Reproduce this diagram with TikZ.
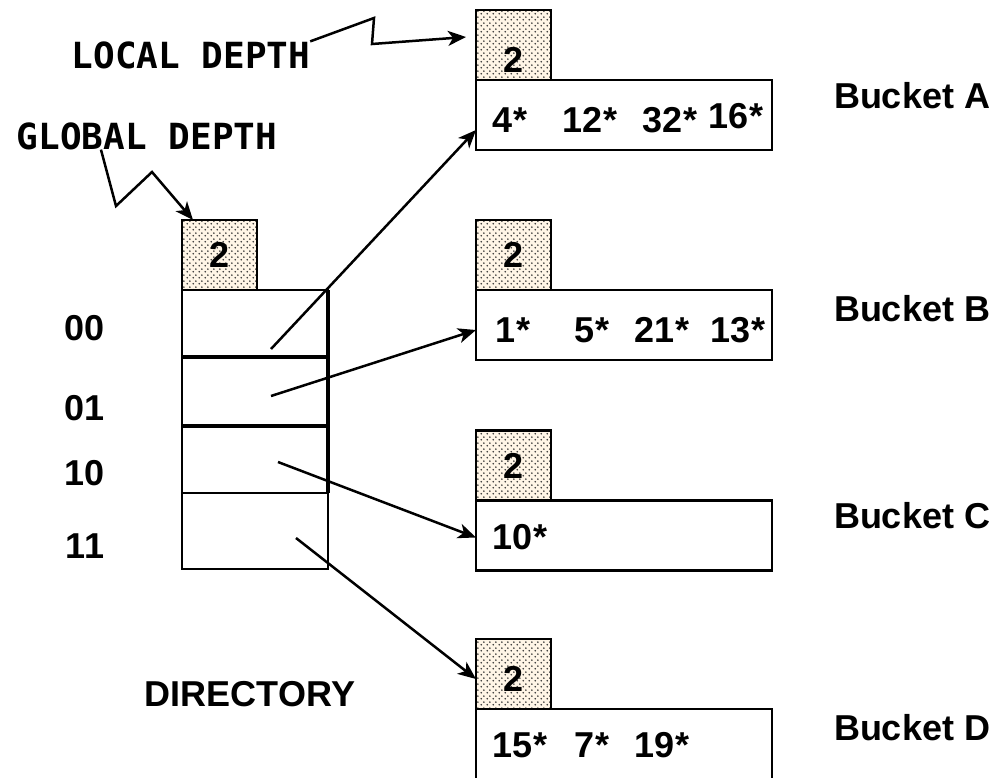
\documentclass[tikz,border=0pt]{standalone}
\usepackage{fontspec}
\setmainfont{Liberation Sans}
\newfontfamily\labelmono{DejaVu Sans Mono}
\usepackage{tikz}
\usetikzlibrary{positioning,arrows.meta,patterns}

\definecolor{cream}{RGB}{255,245,230}
% staggered dots for the depth counters
\pgfdeclarepatternformonly{cream dots}{\pgfqpoint{0pt}{0pt}}{\pgfqpoint{6pt}{6pt}}{\pgfqpoint{6pt}{6pt}}{%
  \pgfpathcircle{\pgfqpoint{1.5pt}{1.5pt}}{1pt}%
  \pgfpathcircle{\pgfqpoint{4.5pt}{4.5pt}}{1pt}%
  \pgfusepath{fill}}

\begin{document}
\begin{tikzpicture}[
  x=1pt, y=-1pt,
  every node/.style={inner sep=0pt, outer sep=0pt},
  txt/.style={font=\fontsize{36}{40}\selectfont\bfseries},
  monotxt/.style={font=\fontsize{36}{40}\selectfont\labelmono\bfseries},
  depthbox/.style={draw, line width=2.5pt, preaction={fill=cream}, pattern=cream dots, pattern color=black!80, minimum width=75pt, minimum height=70pt, txt},
  bktbox/.style={draw, line width=2.5pt, minimum width=296pt, minimum height=70pt},
  cell/.style={draw, line width=2.5pt, minimum width=146pt},
  heavy/.style={line width=4pt},
  ptr/.style={-{Stealth[length=18pt,width=15pt,inset=5pt]}, line width=2.5pt}
]
\useasboundingbox (0,0) rectangle (1001,777);

% Directory with global depth
\node[cell, minimum height=67pt] (dir00) at (255,323.5) {};
\node[cell, minimum height=69pt, below=0pt of dir00] (dir01) {};
\node[cell, minimum height=67pt, below=0pt of dir01] (dir10) {};
\node[cell, minimum height=76pt, below=0pt of dir10] (dir11) {};
\draw[heavy] (dir00.south west) -- (dir00.south east);
\draw[heavy] (dir01.south west) -- (dir01.south east);
\draw[heavy] (dir00.north east) -- (dir10.south east);
\node[depthbox, above right=0pt and 0pt of dir00.north west] (gdepth) {2};

\node[txt] (b00) at (85,328) {00};
\node[txt] (b01) at (85,408) {01};
\node[txt] (b10) at (85,473) {10};
\node[txt] (b11) at (85,546) {11};
\node[txt] (dirlbl) at (250,694) {DIRECTORY};

% Buckets with local depth
\node[bktbox] (bktA) at (624,115) {};
\node[bktbox] (bktB) at (624,325) {};
\node[bktbox] (bktC) at (624,535.5) {};
\node[bktbox] (bktD) at (624,744) {};
\node[depthbox, text height=55pt, above right=0pt and 0pt of bktA.north west] (depthA) {2};
\node[depthbox, above right=0pt and 0pt of bktB.north west] (depthB) {2};
\node[depthbox, above right=0pt and 0pt of bktC.north west] (depthC) {2};
\node[depthbox, text height=35pt, above right=0pt and 0pt of bktD.north west] (depthD) {2};

\foreach \x/\y/\t [count=\i] in {510/120/4*, 590/120/12*, 670/120/32*, 736/116/16*}
  \node[txt] (eA\i) at (\x,\y) {\t};
\foreach \x/\t [count=\i] in {513/1*, 592/5*, 662/21*, 738/13*}
  \node[txt] (eB\i) at (\x,330) {\t};
\node[txt] (eC1) at (520,537) {10*};
\foreach \x/\t [count=\i] in {520/15*, 592/7*, 662/19*}
  \node[txt] (eD\i) at (\x,745) {\t};

\node[txt, anchor=west] (lblA) at (834,96) {Bucket A};
\node[txt, anchor=west] (lblB) at (834,309) {Bucket B};
\node[txt, anchor=west] (lblC) at (834,516) {Bucket C};
\node[txt, anchor=west] (lblD) at (834,728) {Bucket D};

% Depth captions
\node[monotxt] (lbllocal) at (191,55) {LOCAL DEPTH};
\node[monotxt] (lblglobal) at (147,136) {GLOBAL DEPTH};
\draw[ptr] (lbllocal.north east) -- (374,18) -- (372,44) -- ([xshift=-10pt,yshift=8pt]depthA.west);
\draw[ptr] ([xshift=84pt]lblglobal.south west) -- (116,206) -- (152,172) -- ([xshift=11pt]gdepth.north west);

% Directory pointers
\coordinate (p00) at (271,349);
\coordinate (p01) at (271,396);
\coordinate (p10) at (278,462);
\coordinate (p11) at (296,538);
\draw[ptr] (p00) -- ([yshift=-15pt]bktA.west);
\draw[ptr] (p01) -- ([yshift=-5pt]bktB.west);
\draw[ptr] (p10) -- ([yshift=-2pt]bktC.west);
\draw[ptr] (p11) -- ([yshift=-5pt]depthD.west);
\end{tikzpicture}
\end{document}
